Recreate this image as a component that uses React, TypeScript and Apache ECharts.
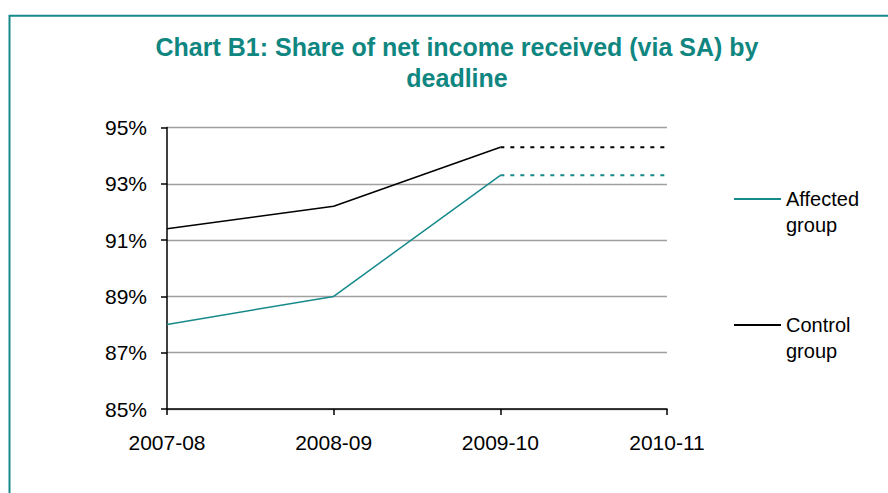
import React, { useEffect, useRef } from "react";
import * as echarts from "echarts";

const years = ["2007-08", "2008-09", "2009-10", "2010-11"];
const affectedActual = [88.0, 89.0, 93.3, null];
const controlActual = [91.4, 92.2, 94.3, null];
const affectedProjected = [null, null, 93.3, 93.3];
const controlProjected = [null, null, 94.3, 94.3];
const yBase = 85;
const yTop = 95;
const yStep = 2;
const titleText = "Chart B1: Share of net income received (via SA) by\ndeadline";
const seriesNames = ["Affected group", "Control group"];

const TEAL = "#16898a";
const TITLE_TEAL = "#108681";
const FONT = "'Liberation Sans', Arial, sans-serif";

const shift = (arr: (number | null)[]) => arr.map((v) => (v == null ? null : v - yBase));

export default function App() {
  const ref = useRef<HTMLDivElement>(null);
  useEffect(() => {
    if (!ref.current) return;
    const chart = echarts.init(ref.current, undefined, { renderer: "svg" });
    const legendCommon = {
      orient: "vertical" as const,
      padding: 0,
      itemWidth: 47,
      itemHeight: 2,
      icon: "rect",
      formatter: (n: string) => "\n" + n.replace(" ", "\n"),
      textStyle: {
        fontFamily: FONT,
        fontSize: 20,
        lineHeight: 26,
        color: "#000",
      },
    };
    chart.setOption({
      animation: false,
      backgroundColor: "#fff",
      graphic: [
        {
          type: "rect",
          shape: { x: 9.5, y: 15.75, width: 1000, height: 1000 },
          style: { fill: "none", stroke: "#16898a", lineWidth: 2 },
          silent: true,
        },
        {
          type: "text",
          x: 457,
          y: 31,
          style: {
            text: titleText,
            textAlign: "center",
            textVerticalAlign: "top",
            fill: TITLE_TEAL,
            font: `bold 25px ${FONT}`,
            lineHeight: 31,
          },
        },
      ],
      legend: [
        { ...legendCommon, data: [seriesNames[0]], left: 734, top: 160 },
        { ...legendCommon, data: [seriesNames[1]], left: 734, top: 286 },
      ],
      grid: { left: 167, top: 127.5, width: 500, height: 281.5, containLabel: false },
      xAxis: {
        type: "category",
        data: years,
        boundaryGap: false,
        axisLine: { lineStyle: { color: "#000", width: 1.5 } },
        axisTick: { show: true, length: 6, lineStyle: { color: "#000", width: 1.5 } },
        axisLabel: { color: "#000", fontSize: 21, fontFamily: FONT, margin: 23 },
        splitLine: { show: false },
      },
      yAxis: {
        type: "value",
        min: 0,
        max: yTop - yBase,
        interval: yStep,
        axisLine: { show: true, lineStyle: { color: "#000", width: 1.5 } },
        axisTick: { show: true, length: 6, lineStyle: { color: "#000", width: 1.5 } },
        axisLabel: {
          color: "#000",
          fontSize: 21,
          fontFamily: FONT,
          margin: 20,
          formatter: (v: number) => `${v + yBase}%`,
        },
        splitLine: { show: true, lineStyle: { color: "#a0a0a0", width: 1.4 } },
      },
      series: [
        {
          name: seriesNames[0],
          type: "line",
          data: shift(affectedActual),
          symbol: "none",
          color: TEAL,
          lineStyle: { color: TEAL, width: 1.5 },
        },
        {
          name: seriesNames[1],
          type: "line",
          data: shift(controlActual),
          symbol: "none",
          color: "#000",
          lineStyle: { color: "#000", width: 1.5 },
        },
        {
          name: "Affected projected",
          type: "line",
          data: shift(affectedProjected),
          symbol: "none",
          lineStyle: { color: TEAL, width: 2, type: [4, 6] },
        },
        {
          name: "Control projected",
          type: "line",
          data: shift(controlProjected),
          symbol: "none",
          lineStyle: { color: "#000", width: 2, type: [4, 6] },
        },
      ],
    });
    return () => chart.dispose();
  }, []);
  return (
    <div
      ref={ref}
      style={{ position: "absolute", left: 0, top: 0, width: 888, height: 493 }}
    />
  );
}
